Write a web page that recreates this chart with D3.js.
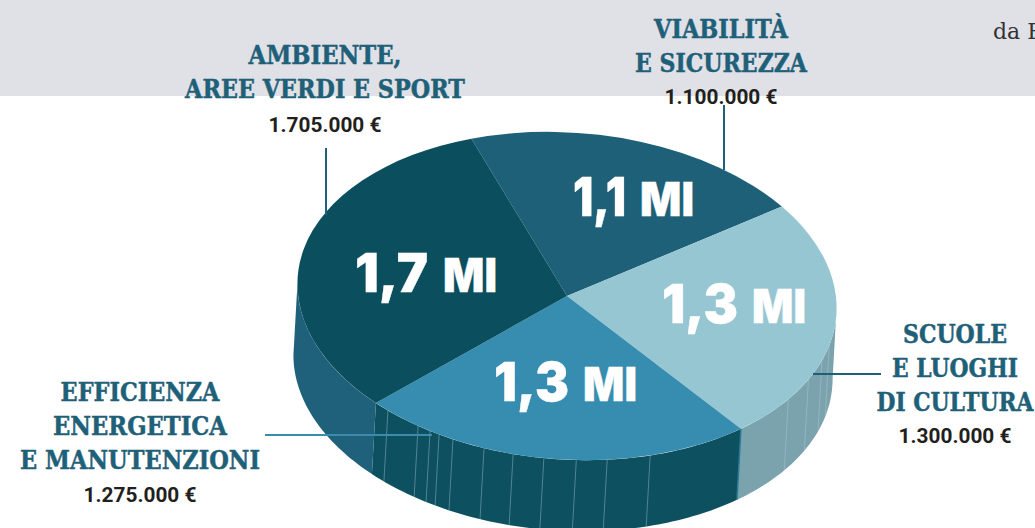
<!DOCTYPE html>
<html>
<head>
<meta charset="utf-8">
<script src="https://cdn.jsdelivr.net/npm/d3@7"></script>
<style>
  html, body { margin: 0; padding: 0; background: #fff; overflow: hidden; }
  .title { font-family: "DejaVu Serif", serif; font-weight: 700; fill: #1f6079; stroke: #1f6079; stroke-width: 0.5px; text-anchor: middle; }
  .amount { font-family: Roboto, sans-serif; font-weight: 700; font-size: 20px; fill: #231f20; text-anchor: middle; }
  .big { font-family: Inter, "Open Sans", sans-serif; font-weight: 900; fill: #fff; stroke: #fff; stroke-width: 0.4px; }
</style>
</head>
<body>
<div id="SvgWrapper"></div>
<script>
// same order as the pie, clockwise from the top
var categories = ['Viabilità e sicurezza', 'Scuole e luoghi di cultura', 'Efficienza energetica e manutenzioni', 'Ambiente, aree verdi e sport'];
var amounts = [1100000, 1300000, 1275000, 1705000];
var bigNumbers = ['1,1', '1,3', '1,3', '1,7'];
var bigUnit = 'MI';
var titleLines = [['VIABILITÀ', 'E SICUREZZA'], ['SCUOLE', 'E LUOGHI', 'DI CULTURA'], ['EFFICIENZA', 'ENERGETICA', 'E MANUTENZIONI'], ['AMBIENTE,', 'AREE VERDI E SPORT']];
var amountLabels = ['1.100.000 €', '1.300.000 €', '1.275.000 €', '1.705.000 €'];
// the thin pale joints on the side of the cake, degrees clockwise from the top
var seamAngles = [101, 106.5, 114, 122.4, 159.6, 169, 175.6, 182.5, 189.1, 195.5, 202.6, 205.9, 208.1, 211.1, 219.2];

var topColors = ['#1f6079', '#97c6d3', '#368db0', '#0b4f5f'];
var sideColors = [null, '#7aa3ae', '#0d5161', '#1f617a'];

var width = 1035, height = 528;
var cx = 567, cy = 296, rx = 270, ry = 163.5, tilt = 4;
var depthX = -4, depthY = 71;
var rad = Math.PI / 180;

var svg = d3.select('#SvgWrapper').append('svg')
  .attr('width', width).attr('height', height)
  .style('display', 'block');

svg.append('rect').attr('width', width).attr('height', 96).attr('fill', '#e0e1e6');

svg.append('text')
  .attr('x', 993).attr('y', 39)
  .style('font-family', '"DejaVu Serif", serif').style('font-weight', 300).style('font-size', '22px')
  .attr('fill', '#333').text('da F');

var pie = d3.pie().value(d => d).sort(null)
  .startAngle(-23.2 * rad).endAngle(336.8 * rad);
var slices = pie(amounts);

// point on the rim for a pie angle, dz pushes it down to the bottom face
function rim(a, dz) {
  var x = rx * Math.sin(a), y = -ry * Math.cos(a);
  var t = tilt * rad;
  return [cx + x * Math.cos(t) - y * Math.sin(t) + (dz ? depthX : 0),
          cy + x * Math.sin(t) + y * Math.cos(t) + (dz ? depthY : 0)];
}

var line = d3.line();
var frontStart = 87.6 * rad, frontEnd = 267.6 * rad;

var sides = svg.append('g');
slices.forEach(function(s, i) {
  var a0 = Math.max(s.startAngle, frontStart), a1 = Math.min(s.endAngle, frontEnd);
  if (a1 <= a0 || !sideColors[i]) return;
  var steps = d3.range(a0, a1, 0.02).concat([a1]);
  var pts = steps.map(a => rim(a, false)).concat(steps.slice().reverse().map(a => rim(a, true)));
  sides.append('path').attr('d', line(pts) + 'Z').attr('fill', sideColors[i]);
});

// blue edge where the two front walls meet
svg.append('path')
  .attr('d', line([rim(slices[1].endAngle, false), rim(slices[1].endAngle, true)]))
  .attr('stroke', '#2a7a9a').attr('stroke-width', 1.5).attr('fill', 'none');

svg.append('g').selectAll('path')
  .data(seamAngles)
  .enter().append('path')
  .attr('d', d => line([rim(d * rad, false), rim(d * rad, true)]))
  .attr('stroke', '#b9d0d6').attr('stroke-width', 0.8).attr('opacity', 0.5).attr('fill', 'none');

var arc = d3.arc().innerRadius(0).outerRadius(rx);
svg.append('g')
  .attr('transform', 'translate(' + cx + ',' + cy + ') rotate(' + tilt + ') scale(1,' + (ry / rx) + ')')
  .selectAll('path')
  .data(slices)
  .enter().append('path')
  .attr('d', arc)
  .attr('fill', (d, i) => topColors[i]);

// leader lines
var leaders = [
  { x1: 724, y1: 105, x2: 724, y2: 170, c: '#1f6079' },
  { x1: 813, y1: 374, x2: 881, y2: 374, c: '#1f6079' },
  { x1: 265, y1: 435, x2: 432, y2: 435, c: '#3a8bad' },
  { x1: 326, y1: 148, x2: 326, y2: 215, c: '#1f6079' }
];
svg.append('g').selectAll('line')
  .data(leaders)
  .enter().append('line')
  .attr('x1', d => d.x1).attr('y1', d => d.y1)
  .attr('x2', d => d.x2).attr('y2', d => d.y2)
  .attr('stroke', d => d.c).attr('stroke-width', 2);

// annotation layout: centre x, first baseline, title line widths
var labelLayout = [
  { x: 721, y: 38, amountY: 104, widths: [134, 172] },
  { x: 955, y: 343, amountY: 443, widths: [104, 126, 157] },
  { x: 140, y: 401, amountY: 502, widths: [159, 174, 240] },
  { x: 325, y: 64, amountY: 132, widths: [153, 280] }
];
var lineGap = 34;

// squeeze a centred text to a width, the slab font here is wider than the original
function fitText(sel, x, y, w) {
  var natural = sel.node().getComputedTextLength();
  sel.attr('transform', 'translate(' + x + ',' + y + ') scale(' + (w / natural) + ',1)');
}

titleLines.forEach(function(lines, i) {
  var l = labelLayout[i];
  lines.forEach(function(t, j) {
    var title = svg.append('text').attr('class', 'title')
      .style('font-size', '26px')
      .text(t);
    fitText(title, l.x, l.y + j * lineGap, l.widths[j]);
  });
  var amount = svg.append('text').attr('class', 'amount').text(amountLabels[i]);
  fitText(amount, l.x, l.amountY, 113);
});

// number and unit are set apart, the unit is a bit smaller in the original
var bigLayout = [
  { x: 573, y: 216, numW: 53, unitX: 640 },
  { x: 662, y: 323, numW: 76, unitX: 752 },
  { x: 494, y: 401, numW: 75, unitX: 583 },
  { x: 355, y: 292, numW: 73, unitX: 443 }
];
bigNumbers.forEach(function(t, i) {
  var b = bigLayout[i];
  svg.append('text').attr('class', 'big')
    .attr('x', b.x).attr('y', b.y).style('font-size', '54px')
    .attr('textLength', b.numW).attr('lengthAdjust', 'spacingAndGlyphs')
    .text(t);
  svg.append('text').attr('class', 'big')
    .attr('x', b.unitX).attr('y', b.y).style('font-size', '47px')
    .attr('textLength', 54).attr('lengthAdjust', 'spacingAndGlyphs')
    .text(bigUnit);
});
</script>
</body>
</html>
